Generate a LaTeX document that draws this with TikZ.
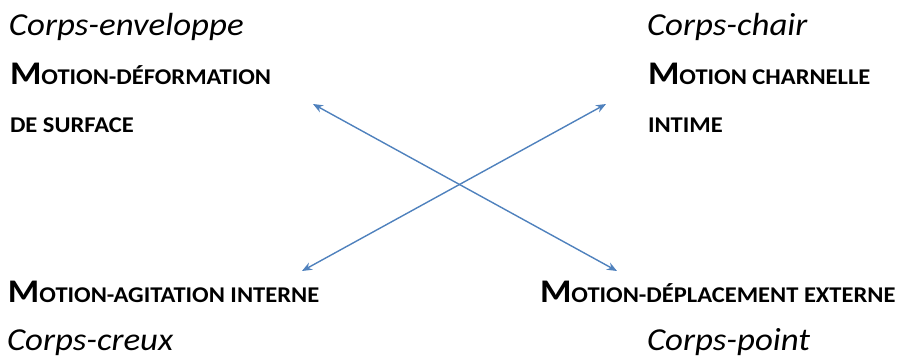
\documentclass[tikz,border=0pt]{standalone}
\usepackage{fontspec}
\usepackage{graphicx}
\setmainfont{Carlito}
\usetikzlibrary{arrows.meta}
\definecolor{arrowblue}{HTML}{4F81BD}
\newcommand{\scbig}[1]{{\fontsize{33}{33}\selectfont #1}}
\newcommand{\scsmall}[1]{{\fontsize{22.5}{24}\selectfont #1}}
\newcommand{\wide}[1]{\scalebox{1.09}[1]{#1}}
\tikzset{
  lab/.style={anchor=base west, inner sep=0pt, outer sep=0pt},
  corps/.style={lab, font=\fontsize{32}{34}\selectfont\itshape},
  motion/.style={lab, font=\bfseries},
  link/.style={arrowblue, line width=1.4pt, {Stealth[length=10pt,width=8pt]}-{Stealth[length=10pt,width=8pt]}}
}
\begin{document}
\begin{tikzpicture}[x=1pt,y=-1pt]
\useasboundingbox (0,0) rectangle (898,360);
% top left
\node[corps] (ce) at (9,35) {\wide{Corps-enveloppe}};
\node[motion] (md) at (10,84) {\wide{\scbig{M}\scsmall{OTION-DÉFORMATION}}};
\node[motion] (ds) at (10,132) {\wide{\scsmall{DE SURFACE}}};
% top right
\node[corps] (cc) at (647,35) {\wide{Corps-chair}};
\node[motion] (mc) at (648,84) {\wide{\scbig{M}\scsmall{OTION CHARNELLE}}};
\node[motion] (it) at (648,132) {\wide{\scsmall{INTIME}}};
% bottom left
\node[motion] (ma) at (8,302) {\wide{\scbig{M}\scsmall{OTION-AGITATION INTERNE}}};
\node[corps] (cr) at (7,350) {\wide{Corps-creux}};
% bottom right
\node[motion] (mp) at (540,302) {\wide{\scbig{M}\scsmall{OTION-DÉPLACEMENT EXTERNE}}};
\node[corps] (cp) at (647,350) {\wide{Corps-point}};
% arrows
\coordinate (tl) at (313,104);
\coordinate (br) at (617,271);
\coordinate (bl) at (302,271);
\coordinate (tr) at (606,104);
\draw[link] (tl) -- (br);
\draw[link] (bl) -- (tr);
\end{tikzpicture}
\end{document}
